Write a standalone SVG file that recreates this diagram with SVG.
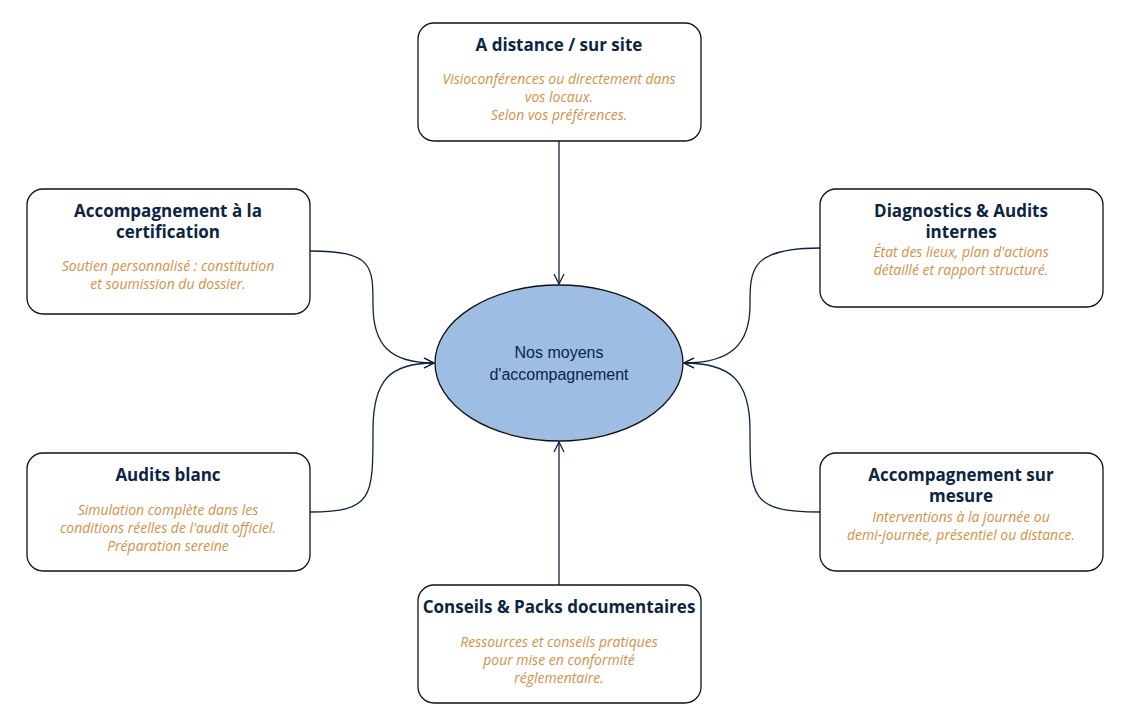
<svg xmlns="http://www.w3.org/2000/svg" width="1123" height="710" viewBox="0 0 1123 710">
<style>
.box{fill:#fff;stroke:#111;stroke-width:1.3}
.t{font-family:"Open Sans",sans-serif;font-weight:bold;font-size:17px;fill:#0b2545;text-anchor:middle}
.d{font-family:"Open Sans",sans-serif;font-style:italic;font-size:14px;fill:#d4913f;text-anchor:middle}
.c{fill:none;stroke:#0b2545;stroke-width:1.3;marker-end:url(#a)}
</style>
<defs><marker id="a" viewBox="0 0 12 12" refX="11" refY="6" markerWidth="12" markerHeight="12" markerUnits="userSpaceOnUse" orient="auto"><path d="M1,1 L11,6 L1,11" fill="none" stroke="#0b2545" stroke-width="1.3"/></marker></defs>
<rect width="1123" height="710" fill="#fff"/>
<g id="connectors">
<path class="c" d="M559,141 L559,284"/>
<path class="c" d="M559,585 L559,442"/>
<path class="c" d="M310,251 C373,251 373,266 373,305 C373,345 390,363 434,363"/>
<path class="c" d="M310,512 C373,512 373,497 373,430 C373,380 390,363 434,363"/>
<path class="c" d="M820,248 C750,248 750,270 750,305 C750,345 730,363 684,363"/>
<path class="c" d="M820,512 C750,512 750,497 750,430 C750,380 730,363 684,363"/>
</g>
<g id="center"><ellipse cx="559" cy="363" rx="124" ry="78" fill="#9dbde2" stroke="#111" stroke-width="1.3"/>
<text x="559" y="358" font-family="Liberation Sans,sans-serif" font-size="16" fill="#0b2545" text-anchor="middle">Nos moyens</text>
<text x="559" y="380" font-family="Liberation Sans,sans-serif" font-size="16" fill="#0b2545" text-anchor="middle">d'accompagnement</text></g>
<g id="n1"><rect class="box" x="418" y="23" width="283" height="118" rx="16"/>
<text class="t" x="559" y="51">A distance / sur site</text>
<text class="d" x="559" y="84">Visioconférences ou directement dans</text>
<text class="d" x="559" y="102">vos locaux.</text>
<text class="d" x="559" y="120">Selon vos préférences.</text></g>
<g id="n2"><rect class="box" x="27" y="189" width="283" height="125" rx="16"/>
<text class="t" x="168" y="217">Accompagnement à la</text>
<text class="t" x="168" y="238">certification</text>
<text class="d" x="168" y="271">Soutien personnalisé : constitution</text>
<text class="d" x="168" y="289">et soumission du dossier.</text></g>
<g id="n3"><rect class="box" x="820" y="189" width="283" height="118" rx="16"/>
<text class="t" x="961" y="217">Diagnostics &amp; Audits</text>
<text class="t" x="961" y="238">internes</text>
<text class="d" x="961" y="257">État des lieux, plan d'actions</text>
<text class="d" x="961" y="275">détaillé et rapport structuré.</text></g>
<g id="n4"><rect class="box" x="27" y="453" width="283" height="118" rx="16"/>
<text class="t" x="168" y="481">Audits blanc</text>
<text class="d" x="168" y="515">Simulation complète dans les</text>
<text class="d" x="168" y="533">conditions réelles de l'audit officiel.</text>
<text class="d" x="168" y="551">Préparation sereine</text></g>
<g id="n5"><rect class="box" x="820" y="453" width="283" height="118" rx="16"/>
<text class="t" x="961" y="481">Accompagnement sur</text>
<text class="t" x="961" y="502">mesure</text>
<text class="d" x="961" y="522">Interventions à la journée ou</text>
<text class="d" x="961" y="540">demi-journée, présentiel ou distance.</text></g>
<g id="n6"><rect class="box" x="418" y="585" width="283" height="118" rx="16"/>
<text class="t" x="559" y="613">Conseils &amp; Packs documentaires</text>
<text class="d" x="559" y="647">Ressources et conseils pratiques</text>
<text class="d" x="559" y="665">pour mise en conformité</text>
<text class="d" x="559" y="683">réglementaire.</text></g>
</svg>
